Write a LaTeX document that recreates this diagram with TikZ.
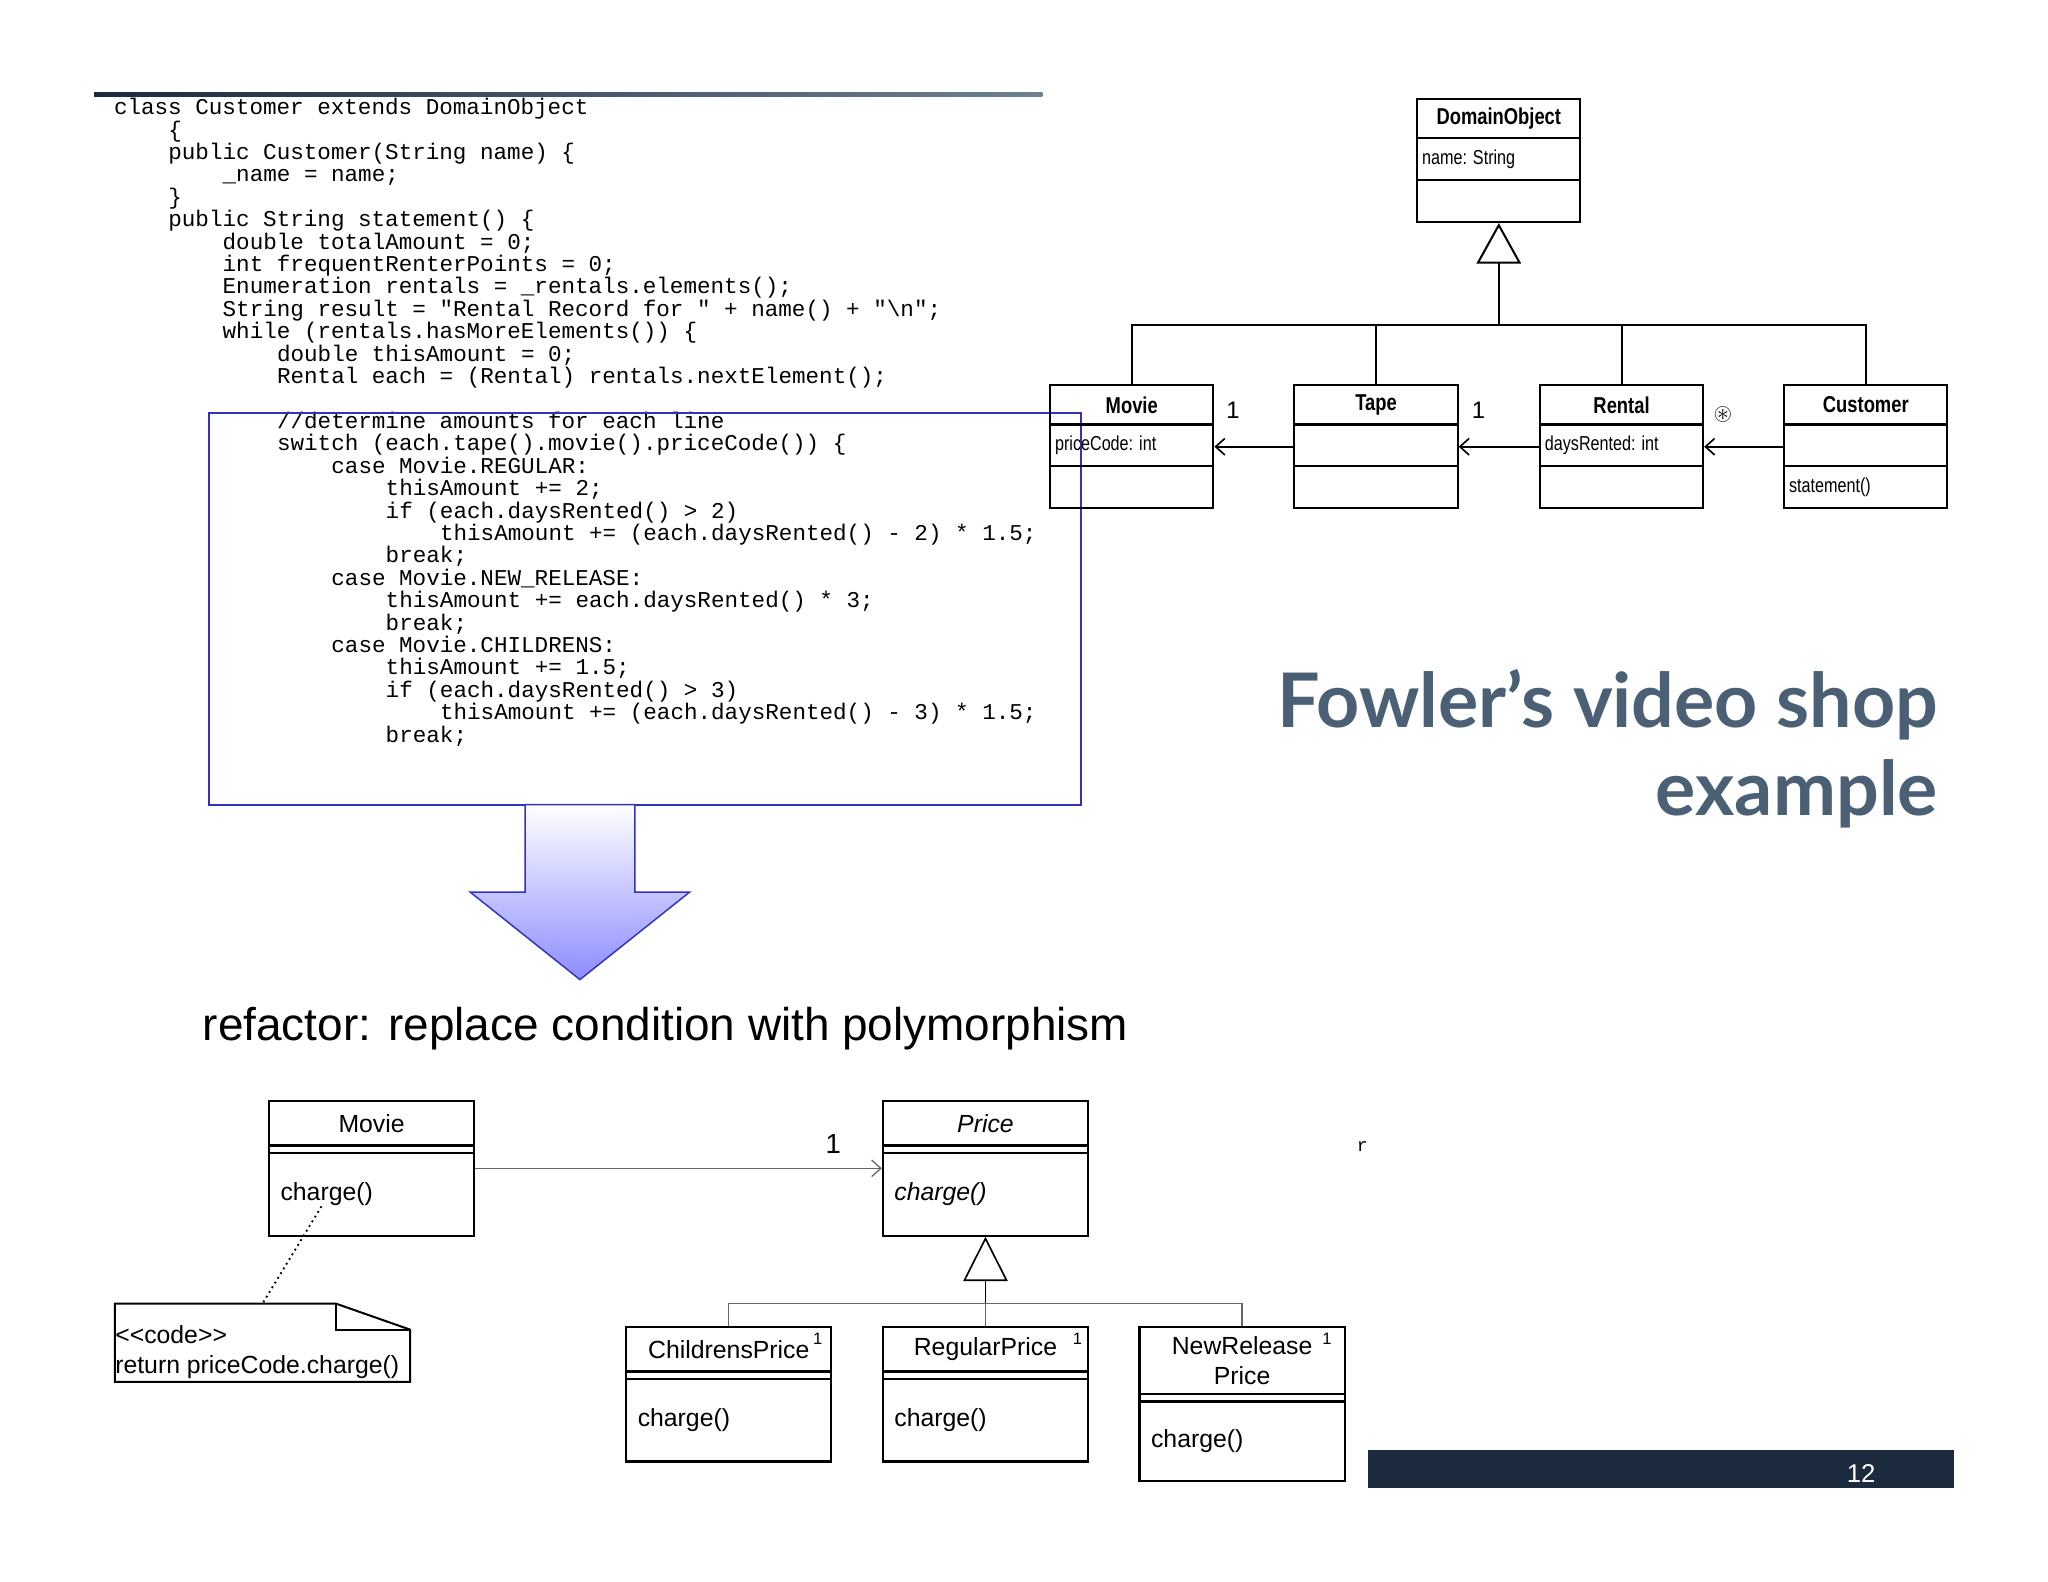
\documentclass[tikz,border=0pt]{standalone}
\usepackage{fontspec}
\usepackage{amssymb}
\setmainfont{Liberation Sans}
\setmonofont{Liberation Mono}
\newfontfamily\umlnarrow[FakeStretch=0.8]{Liberation Sans}
\newfontfamily\titlefont{Lato}
\usetikzlibrary{arrows.meta,positioning}
\definecolor{slate}{HTML}{4B6075}
\definecolor{codeblue}{HTML}{3232C0}
\definecolor{footnavy}{HTML}{1B2B3D}
\newlength\codechar
\setlength\codechar{0.26cm}

\begin{document}
\begin{tikzpicture}[x=0.025cm,y=-0.025cm,
  tbox/.style={draw,line width=1.1pt,minimum width=3.125cm,minimum height=2.35cm,inner sep=0},
  ttitle/.style={font=\umlnarrow\bfseries\fontsize{12.5}{13}\selectfont,inner sep=0},
  tattr/.style={font=\umlnarrow\fontsize{11}{12}\selectfont,anchor=west,inner sep=0},
  bbox/.style={draw,line width=1.2pt,minimum width=3.925cm,inner sep=0},
  btext/.style={font=\fontsize{13.5}{16.5}\selectfont,inner sep=0,align=center},
  bop/.style={font=\fontsize{13.5}{16}\selectfont,inner sep=0,anchor=west},
  mult/.style={font=\fontsize{9}{10}\selectfont,inner sep=0},
  gen/.style={-{Triangle[open,length=0.85cm,width=0.85cm,fill=white]}},
  nav/.style={-{Straight Barb[length=5pt,width=9pt]}}]
  \useasboundingbox (0,0) rectangle (1568,1211);

  % code listing
  \shade[left color=footnavy,right color=slate!80] (72,70.5) rectangle (798,73.5);
  \def\ind#1{\hspace*{#1\codechar}}
  \node[font=\ttfamily\fontsize{12.3}{12.2}\selectfont,align=left,anchor=north west,inner sep=0] (code) at (87,75) {%
    class Customer extends DomainObject\\
    \ind4\{\\
    \ind4public Customer(String name) \{\\
    \ind8\_name = name;\\
    \ind4\}\\
    \ind4public String statement() \{\\
    \ind8double totalAmount = 0;\\
    \ind8int frequentRenterPoints = 0;\\
    \ind8Enumeration rentals = \_rentals.elements();\\
    \ind8String result = "Rental Record for " + name() + "\textbackslash n";\\
    \ind8while (rentals.hasMoreElements()) \{\\
    \ind{12}double thisAmount = 0;\\
    \ind{12}Rental each = (Rental) rentals.nextElement();\\
    ~\\
    \ind{12}//determine amounts for each line\\
    \ind{12}switch (each.tape().movie().priceCode()) \{\\
    \ind{16}case Movie.REGULAR:\\
    \ind{20}thisAmount += 2;\\
    \ind{20}if (each.daysRented() > 2)\\
    \ind{24}thisAmount += (each.daysRented() - 2) * 1.5;\\
    \ind{20}break;\\
    \ind{16}case Movie.NEW\_RELEASE:\\
    \ind{20}thisAmount += each.daysRented() * 3;\\
    \ind{20}break;\\
    \ind{16}case Movie.CHILDRENS:\\
    \ind{20}thisAmount += 1.5;\\
    \ind{20}if (each.daysRented() > 3)\\
    \ind{24}thisAmount += (each.daysRented() - 3) * 1.5;\\
    \ind{20}break;};
  \draw[codeblue,line width=1.1pt] (160,316) rectangle (828,616);
  \shade[top color=white,bottom color=blue!45,draw=codeblue,line width=0.8pt]
    (402,616) -- (486,616) -- (486,683) -- (528,683) -- (444,750) -- (360,683) -- (402,683) -- cycle;

  % top class diagram
  \def\tclass#1#2#3#4#5#6{%
    \node[tbox] (#1) at (#2,#3+47) {};
    \draw[line width=1.1pt] (#2-62.5,#3+30) -- (#2+62.5,#3+30) (#2-62.5,#3+62) -- (#2+62.5,#3+62);
    \node[ttitle] (#1-t) at (#2,#3+15) {#4};
    \node[tattr] (#1-a) at (#2-59,#3+46) {#5};
    \node[tattr] (#1-o) at (#2-59,#3+78) {#6};}
  \tclass{domain}{1147.5}{76}{DomainObject}{name: String}{}
  \tclass{tmovie}{866.5}{295}{Movie}{priceCode: int}{}
  \tclass{tape}{1053.5}{295}{Tape}{}{}
  \tclass{rental}{1241.5}{295}{Rental}{daysRented: int}{}
  \tclass{customer}{1428.5}{295}{Customer}{}{statement()}
  \coordinate (tbus) at (1147.5,249);
  \draw[line width=1.1pt,-{Triangle[open,length=0.775cm,width=0.85cm,fill=white]}] (tbus) -- (domain.south);
  \draw[line width=1.1pt] (tmovie.north) |- (tbus) -| (customer.north);
  \draw[line width=1.1pt] (tape.north) -- (tape.north |- tbus);
  \draw[line width=1.1pt] (rental.north) -- (rental.north |- tbus);
  \draw[line width=0.9pt,nav] (tape) -- (tmovie);
  \draw[line width=0.9pt,nav] (rental) -- (tape);
  \draw[line width=0.9pt,nav] (customer) -- (rental);
  \node[font=\fontsize{13}{14}\selectfont,inner sep=0] (m1) at (944,314) {1};
  \node[font=\fontsize{13}{14}\selectfont,inner sep=0] (m2) at (1132,314) {1};
  \node[font=\bfseries\fontsize{13}{14}\selectfont,inner sep=0] (m3) at (1319,317) {$\circledast$};

  % title
  \node[font=\titlefont\bfseries\fontsize{41}{48}\selectfont,text=slate,align=right,anchor=north east,inner sep=0] (title) at (1484,512) {Fowler’s video shop\\example};
  \node[font=\fontsize{25}{30}\selectfont,anchor=base west,inner sep=0] (refactor) at (155,797) {refactor: replace condition with polymorphism};

  % bottom class diagram
  \def\bclass#1#2#3#4#5#6#7{%
    \pgfmathsetmacro\cy{(#3+#4)/2}
    \pgfmathsetmacro\ty{(#3+#5)/2}
    \pgfmathsetmacro\oy{(#5+6+#4)/2}
    \node[bbox,minimum height={(#4-#3)*0.025cm}] (#1) at (#2,\cy) {};
    \draw[line width=1.2pt] (#2-78.5,#5) -- (#2+78.5,#5) (#2-78.5,#5+6) -- (#2+78.5,#5+6);
    \node[btext] (#1-t) at (#2,\ty) {#6};
    \node[bop] (#1-o) at (#2-70,\oy) {#7};}
  \bclass{movie}{284.5}{843}{946}{877}{Movie}{charge()}
  \bclass{price}{754.5}{843}{946}{877}{\itshape Price}{\itshape charge()}
  \bclass{children}{558}{1016}{1119}{1050}{ChildrensPrice}{charge()}
  \bclass{regular}{754.5}{1016}{1119}{1050}{RegularPrice}{charge()}
  \bclass{newrel}{951}{1016}{1134}{1067}{NewRelease\\Price}{charge()}
  \node[mult] (c1) at (626,1025) {1};
  \node[mult] (r1) at (825,1025) {1};
  \node[mult] (n1) at (1016,1025) {1};
  \draw[gray!80!black,line width=0.7pt,nav] (movie.east) -- (price.west);
  \node[font=\fontsize{15}{16}\selectfont,inner sep=0] (p1) at (638,876) {1};
  \coordinate (pbus) at (754.5,998);
  \draw[gen,line width=0.9pt] (pbus) -- (price.south);
  \draw[gray!80!black,line width=0.7pt] (children.north) |- (pbus) -| (newrel.north);
  \draw[gray!80!black,line width=0.7pt] (regular.north) -- (pbus);

  % note
  \draw[line width=1.1pt] (88,998) -- (257,998) -- (314,1018) -- (314,1058) -- (88,1058) -- cycle;
  \draw[line width=1.1pt] (257,998) -- (257,1018) -- (314,1018);
  \coordinate (note) at (201,998);
  \node[bop,align=left,font=\fontsize{13.5}{16.3}\selectfont] (notetext) at (88,1035) {{<}{<}code{>}{>}\\return priceCode.charge()};
  \draw[dotted,line width=1pt] ([xshift=-0.1cm]movie-o.south) -- (note);

  % leftover mark and footer
  \node[font=\ttfamily\fontsize{10}{12}\selectfont,inner sep=0] (stray) at (1043,878) {r};
  \fill[footnavy] (1047,1110) rectangle (1496,1139);
  \node[font=\fontsize{14}{16}\selectfont,text=white,inner sep=0] (page) at (1425,1128) {12};
\end{tikzpicture}
\end{document}
